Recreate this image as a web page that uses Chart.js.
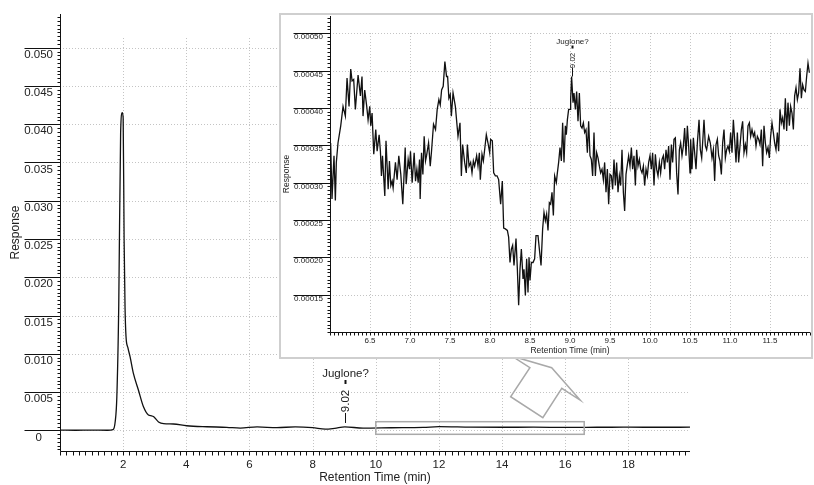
<!DOCTYPE html>
<html>
<head>
<meta charset="utf-8">
<title>Chromatogram</title>
<script src="https://cdn.jsdelivr.net/npm/chart.js@4.4.1/dist/chart.umd.min.js"></script>
<style>
    html, body { margin: 0; padding: 0; background: #fff; }
    #wrap { position: relative; width: 814px; height: 485px; overflow: hidden; }
    #mainChart { position: absolute; left: 0; top: 0; }
    #insetBox { position: absolute; left: 279px; top: 13px; width: 530px; height: 342px;
                border: 2px solid #cfcfcf; background: #fff; }
    #insetChart { display: block; }
</style>
</head>
<body>
<div id="wrap">
    <canvas id="mainChart" width="814" height="485"></canvas>
    <div id="insetBox"><canvas id="insetChart" width="530" height="342"></canvas></div>
</div>
<script>
// 全程色谱 (min / response)
const mainTime = [0, 0.5, 1.0, 1.5, 1.68, 1.75, 1.8, 1.86, 1.92, 1.97, 2.0, 2.03, 2.06, 2.09,
    2.15, 2.22, 2.32, 2.48, 2.64, 2.8, 2.9, 2.96, 3.12, 3.28, 3.59, 4.01, 4.65, 5.28, 5.71, 6.24,
    6.87, 7.45, 8.0, 8.4, 8.7, 9.02, 9.6, 10.5, 11.5, 12.0, 13.0, 14.0, 15.0, 16.0, 17.0, 18.0, 19.0, 19.95];
const mainResp = [0.00002, 0.00001, 0.00002, 0.00001, 0.0001, 0.0012, 0.0044, 0.0162, 0.0389, 0.0415,
    0.0408, 0.0249, 0.0160, 0.0123, 0.0108, 0.0096, 0.0075, 0.0053, 0.0031, 0.0020, 0.0019, 0.0018,
    0.0011, 0.00087, 0.00083, 0.0006, 0.00047, 0.0004, 0.0003, 0.00045, 0.00035, 0.00046, 0.00035,
    0.00015, 0.00026, 0.00044, 0.0003, 0.00034, 0.00038, 0.00048, 0.00042, 0.0004, 0.00041, 0.00039,
    0.0004, 0.00041, 0.0004, 0.00041];

// 局部放大 6–12 min, 响应值单位 1e-5
const insetTime = [
    6.008, 6.025, 6.05, 6.067, 6.079, 6.10, 6.134, 6.163, 6.192, 6.213, 6.238, 6.259, 6.276, 6.296,
    6.317, 6.351, 6.38, 6.40, 6.413, 6.434, 6.459, 6.476, 6.497, 6.509, 6.526, 6.547, 6.572, 6.589,
    6.614, 6.63, 6.643, 6.656, 6.685, 6.70, 6.727, 6.743, 6.76, 6.777, 6.789, 6.818, 6.839, 6.86,
    6.885, 6.91, 6.94, 6.952, 6.977, 6.994, 7.006, 7.027, 7.052, 7.069, 7.086, 7.102, 7.119, 7.127,
    7.144, 7.161, 7.177, 7.194, 7.207, 7.232, 7.253, 7.269, 7.294, 7.319, 7.34, 7.361, 7.378, 7.395,
    7.415, 7.436, 7.457, 7.47, 7.486, 7.503,
    7.517, 7.538, 7.567, 7.6, 7.625, 7.642, 7.658, 7.683, 7.704, 7.717, 7.738, 7.758, 7.775, 7.792,
    7.808, 7.833, 7.85, 7.867, 7.879, 7.9, 7.917, 7.933, 7.954, 7.975, 7.996, 8.008, 8.029, 8.046,
    8.067, 8.088, 8.108, 8.133, 8.154, 8.171, 8.192, 8.217, 8.233, 8.25, 8.267, 8.283, 8.3, 8.325,
    8.342, 8.358, 8.375, 8.392, 8.413, 8.425, 8.442, 8.458, 8.475, 8.488, 8.5, 8.517, 8.538, 8.558,
    8.575, 8.6, 8.617, 8.638, 8.658, 8.675, 8.692, 8.708, 8.725, 8.742, 8.758, 8.775, 8.792, 8.808,
    8.829, 8.842, 8.858, 8.875, 8.892, 8.908, 8.925, 8.942, 8.954, 8.967, 8.983, 9.0,
    9.008, 9.02, 9.038, 9.05, 9.067, 9.083, 9.1, 9.117, 9.133, 9.15, 9.167, 9.183, 9.2, 9.217,
    9.233, 9.25, 9.267, 9.283, 9.3, 9.317, 9.333, 9.35, 9.367, 9.383, 9.4, 9.417, 9.433, 9.45,
    9.467, 9.483, 9.5, 9.517, 9.533, 9.55, 9.567, 9.583, 9.6, 9.617, 9.633, 9.65, 9.667, 9.683,
    9.7, 9.717, 9.733, 9.75, 9.767, 9.783, 9.8, 9.817, 9.833, 9.85, 9.867, 9.883, 9.9, 9.917,
    9.933, 9.95, 9.967, 9.983, 10.0, 10.017, 10.033, 10.05, 10.067, 10.083, 10.1, 10.117, 10.133, 10.15,
    10.167, 10.183, 10.2, 10.217, 10.233, 10.25, 10.267, 10.283, 10.3, 10.317, 10.333, 10.35, 10.367, 10.383,
    10.4, 10.417, 10.433, 10.45, 10.467, 10.483, 10.5,
    10.508, 10.525, 10.542, 10.558, 10.575, 10.592, 10.613, 10.629, 10.646, 10.663, 10.675, 10.692, 10.708, 10.733,
    10.754, 10.775, 10.792, 10.808, 10.825, 10.842, 10.858, 10.875, 10.892, 10.908, 10.925, 10.942, 10.958, 10.975,
    10.992, 11.008, 11.025, 11.042, 11.058, 11.075, 11.092, 11.108, 11.125, 11.142, 11.158, 11.175, 11.192, 11.208,
    11.225, 11.242, 11.258, 11.275, 11.292, 11.308, 11.325, 11.342, 11.358, 11.375, 11.392, 11.408, 11.425, 11.442,
    11.458, 11.475, 11.492, 11.508, 11.525, 11.542, 11.558, 11.575, 11.592, 11.608, 11.625, 11.642, 11.658, 11.675,
    11.692, 11.708, 11.725, 11.742, 11.758, 11.775, 11.792, 11.808, 11.825, 11.842, 11.858, 11.875, 11.892, 11.908,
    11.925, 11.942, 11.958, 11.975, 11.992];
const insetResp = [
    35.3, 27.8, 33.6, 27.6, 32.7, 35.3, 37.6, 40.2, 38.9, 44.0, 40.2, 45.2, 43.6, 43.8,
    39.8, 44.4, 41.6, 44.2, 38.9, 42.4, 40.2, 38.4, 40.2, 37.6, 39.3, 33.8, 37.1, 34.2,
    36.4, 34.2, 30.9, 33.6, 28.2, 35.6, 29.1, 32.9, 29.6, 30.2, 29.3, 32.7, 30.4, 33.6,
    31.1, 27.1, 34.7, 29.8, 33.1, 31.8, 34.2, 30.0, 34.0, 30.2, 31.8, 30.0, 33.1, 27.8,
    34.0, 31.1, 36.2, 32.9, 33.6, 35.3, 32.2, 34.2, 37.8, 37.1, 39.8, 41.1, 40.4, 42.4,
    42.9, 46.2, 44.2, 44.2, 41.3, 41.8,
    38.9, 42.0, 40.2, 36.2, 38.0, 30.9, 35.1, 32.7, 31.3, 35.1, 32.2, 32.7, 31.3, 32.9,
    32.2, 33.6, 32.2, 34.0, 30.4, 33.8, 32.9, 34.4, 36.4, 35.3, 34.0, 35.8, 35.6, 31.3,
    30.9, 30.9, 30.4, 27.1, 30.2, 23.9, 23.8, 23.6, 22.7, 19.3, 21.1, 21.6, 18.9, 22.5,
    18.4, 13.6, 18.4, 21.1, 17.1, 18.4, 14.9, 19.8, 15.3, 20.0, 16.9, 19.3, 19.3, 19.8,
    22.9, 22.9, 21.1, 18.9, 23.8, 26.0, 24.9, 25.8, 23.6, 27.3, 27.1, 28.7, 25.6, 30.9,
    30.0, 31.3, 32.7, 34.7, 32.9, 38.0, 32.7, 37.6, 36.4, 38.4, 39.8, 39.8,
    41.1, 44.2, 40.7, 42.0, 39.8, 42.2, 38.2, 42.0, 37.6, 37.3, 38.0, 36.7, 37.1, 34.0,
    38.2, 33.6, 33.1, 30.9, 36.7, 30.9, 34.0, 33.3, 32.2, 31.3, 31.8, 30.4, 32.7, 28.7,
    31.8, 27.1, 31.1, 30.9, 29.1, 33.1, 29.6, 32.7, 28.7, 30.9, 29.6, 34.4, 28.7, 26.2,
    31.1, 32.4, 33.6, 32.2, 34.7, 31.8, 33.6, 29.6, 34.4, 32.2, 33.1, 31.8, 31.3, 32.2,
    29.6, 31.8, 30.9, 32.7, 33.6, 31.8, 34.0, 29.6, 33.8, 31.8, 30.9, 32.7, 31.3, 33.1,
    33.6, 31.8, 34.4, 32.7, 34.9, 30.4, 35.1, 32.7, 35.8, 36.0, 31.3, 28.4, 34.4, 35.3,
    33.6, 34.9, 37.3, 33.6, 37.6, 34.9, 31.3,
    35.8, 31.8, 36.0, 34.0, 31.8, 35.3, 38.4, 34.4, 33.3, 36.2, 38.4, 34.9, 34.4, 36.2,
    35.3, 33.3, 34.4, 30.2, 35.1, 35.8, 33.6, 32.9, 31.1, 35.3, 37.1, 33.3, 34.4, 34.9,
    34.2, 36.7, 34.0, 38.4, 35.8, 32.7, 36.7, 32.7, 34.9, 37.1, 38.2, 34.0, 35.1, 34.0,
    37.6, 38.0, 36.2, 37.1, 36.2, 36.7, 34.9, 36.2, 35.8, 35.1, 37.1, 32.2, 37.6, 35.3,
    34.0, 34.7, 33.3, 36.2, 38.0, 36.7, 35.3, 34.4, 36.7, 34.2, 39.8, 38.0, 38.7, 37.1,
    41.3, 36.9, 40.7, 37.6, 40.2, 39.3, 37.1, 41.6, 42.7, 41.1, 42.0, 45.3, 41.3, 43.1,
    42.4, 42.2, 44.2, 46.0, 44.7];

// 刻度
const mainXTicks = [2, 4, 6, 8, 10, 12, 14, 16, 18];
const mainYTicks = [0, 0.005, 0.010, 0.015, 0.020, 0.025, 0.030, 0.035, 0.040, 0.045, 0.050];
const insetXTicks = [6.5, 7.0, 7.5, 8.0, 8.5, 9.0, 9.5, 10.0, 10.5, 11.0, 11.5];
const insetYTicks = [0.00015, 0.00020, 0.00025, 0.00030, 0.00035, 0.00040, 0.00045, 0.00050];

const FONT = '"Liberation Sans", Arial, Helvetica, sans-serif';
const TEXT = '#222';
const GRID = '#c4c4c4';

// 网格、坐标轴、次刻度和峰标注
function makeDecor(cfg) {
    const lineAt = (ctx, x1, y1, x2, y2) => { ctx.moveTo(x1, y1); ctx.lineTo(x2, y2); };
    const steps = (min, max, step) => {
        const out = [];
        for (let i = Math.ceil(min / step - 1e-6); i <= Math.floor(max / step + 1e-6); i++) out.push(i * step);
        return out;
    };
    return {
        id: 'decor',
        beforeDatasetsDraw(chart) {
            const { ctx, chartArea: a, scales: { x, y } } = chart;
            ctx.save();
            ctx.strokeStyle = GRID;
            ctx.lineWidth = 1;
            ctx.setLineDash([1, 2]);
            ctx.beginPath();
            cfg.yTicks.forEach(v => {
                const py = Math.round(y.getPixelForValue(v)) + 0.5;
                lineAt(ctx, a.left, py, a.right, py);
            });
            const top = Math.round(y.getPixelForValue(cfg.gridTop));
            cfg.xTicks.forEach(v => {
                const px = Math.round(x.getPixelForValue(v)) + 0.5;
                lineAt(ctx, px, top, px, a.bottom);
            });
            ctx.stroke();
            ctx.restore();
        },
        afterDatasetsDraw(chart) {
            const { ctx, chartArea: a, scales: { x, y } } = chart;
            const left = Math.round(a.left) + 0.5;
            const bottom = Math.round(a.bottom) + 0.5;
            ctx.save();
            ctx.strokeStyle = '#111';
            ctx.lineWidth = 1;
            ctx.beginPath();
            lineAt(ctx, left, a.top, left, bottom);
            lineAt(ctx, left, bottom, a.right, bottom);
            // 主刻度长横线
            cfg.yTicks.forEach(v => {
                const py = Math.round(y.getPixelForValue(v)) + 0.5;
                lineAt(ctx, left - cfg.majorLen, py, left, py);
            });
            steps(y.min, y.max, cfg.yMinor).forEach(v => {
                const py = Math.round(y.getPixelForValue(v)) + 0.5;
                lineAt(ctx, left - cfg.minorLen, py, left, py);
            });
            steps(x.min, x.max, cfg.xMinor).forEach(v => {
                const px = Math.round(x.getPixelForValue(v)) + 0.5;
                lineAt(ctx, px, bottom, px, bottom + cfg.xTickLen);
            });
            ctx.stroke();

            // 放大区域框和指向插图的箭头
            if (cfg.zoomBox) {
                const b = cfg.zoomBox;
                ctx.strokeStyle = '#a9a9a9';
                ctx.lineWidth = 1.5;
                const x0 = x.getPixelForValue(b.x0), x1 = x.getPixelForValue(b.x1);
                const y0 = y.getPixelForValue(b.y1), y1 = y.getPixelForValue(b.y0);
                ctx.strokeRect(x0, y0, x1 - x0, y1 - y0);
                ctx.beginPath();
                cfg.callout.forEach(([t, v], i) => {
                    const px = x.getPixelForValue(t), py = y.getPixelForValue(v);
                    if (i === 0) ctx.moveTo(px, py); else ctx.lineTo(px, py);
                });
                ctx.closePath();
                ctx.stroke();
            }

            // 峰标注
            const p = cfg.peak;
            const pts = chart.data.datasets[0].data;
            const pt = pts.find(d => Math.abs(d.x - p.time) < 1e-6);
            const px = Math.round(x.getPixelForValue(pt.x)) + 0.5;
            const py = y.getPixelForValue(pt.y);
            ctx.strokeStyle = '#111';
            ctx.lineWidth = 1;
            ctx.beginPath();
            lineAt(ctx, px, py + p.stem[0], px, py + p.stem[1]);
            ctx.stroke();
            ctx.lineWidth = 2;
            ctx.beginPath();
            lineAt(ctx, px, py + p.dash[0], px, py + p.dash[1]);
            ctx.stroke();
            ctx.fillStyle = TEXT;
            ctx.font = p.fontSize + 'px ' + FONT;
            ctx.textAlign = 'center';
            ctx.textBaseline = 'middle';
            ctx.fillText(p.label, px, py + p.labelAt);
            ctx.translate(px, py + p.valueAt);
            ctx.rotate(-Math.PI / 2);
            ctx.fillText(pt.x.toFixed(2), 0, 0);
            ctx.restore();
        }
    };
}

function axisConfig(opts) {
    return {
        type: 'linear',
        min: opts.min,
        max: opts.max,
        afterBuildTicks: s => { s.ticks = opts.ticks.map(v => ({ value: v })); },
        afterFit: s => {
            // 固定坐标轴占位, 不让标签撑开绘图区
            if (opts.width) {
                s.width = opts.width;
                s.paddingTop = 0;
                s.paddingBottom = 0;
            } else {
                s.height = opts.height;
                s.paddingLeft = 0;
                s.paddingRight = 0;
            }
        },
        grid: { display: false, drawTicks: false },
        border: { display: false },
        ticks: {
            autoSkip: false,
            maxRotation: 0,
            padding: opts.padding,
            labelOffset: opts.labelOffset || 0,
            crossAlign: 'center',
            color: TEXT,
            font: { family: FONT, size: opts.tickSize },
            callback: opts.format
        },
        title: {
            display: true,
            text: opts.title,
            color: TEXT,
            font: { family: FONT, size: opts.titleSize },
            padding: opts.titlePad
        }
    };
}

function lineChart(id, times, values, padding, scales, decor, smooth) {
    const points = times.map((t, i) => ({ x: t, y: values[i] }));
    return new Chart(document.getElementById(id), {
        type: 'line',
        data: {
            datasets: [{
                data: points,
                borderColor: '#111',
                borderWidth: 1.3,
                pointRadius: 0,
                fill: false,
                tension: 0,
                cubicInterpolationMode: smooth ? 'monotone' : 'default'
            }]
        },
        options: {
            responsive: false,
            animation: false,
            layout: { padding: padding },
            plugins: { legend: { display: false }, tooltip: { enabled: false } },
            scales: scales
        },
        plugins: [makeDecor(decor)]
    });
}

// 主图
lineChart('mainChart', mainTime, mainResp,
    { top: 14, right: 124, left: 0, bottom: 0 },
    {
        x: axisConfig({ min: 0, max: 19.95, ticks: mainXTicks, height: 34, padding: 14,
            tickSize: 11.5, format: v => String(v), title: 'Retention Time (min)', titleSize: 12,
            titlePad: { top: 0, bottom: 0 } }),
        y: axisConfig({ min: -0.0027, max: 0.0544, ticks: mainYTicks, width: 60, padding: 7,
            labelOffset: 7, tickSize: 11.5, format: v => (v === 0 ? '0' : v.toFixed(3)),
            title: 'Response', titleSize: 12, titlePad: { top: 8, bottom: 0 } })
    },
    {
        xTicks: mainXTicks, yTicks: mainYTicks, gridTop: 0.0513,
        majorLen: 36, minorLen: 3, yMinor: 0.0005, xMinor: 0.2, xTickLen: 4,
        zoomBox: { x0: 10.0, x1: 16.6, y0: -0.00052, y1: 0.00113 },
        callout: [[14.30, 0.00972], [14.88, 0.00819], [14.27, 0.00439], [15.29, 0.00165],
                  [15.89, 0.00549], [16.47, 0.00396], [15.57, 0.00819]],
        peak: { time: 9.02, label: 'Juglone?', fontSize: 11.5,
                stem: [-4, -14], valueAt: -26, dash: [-43, -47], labelAt: -53 }
    },
    true);

// 插图
lineChart('insetChart', insetTime, insetResp.map(v => v * 1e-5),
    { top: 1, right: 1, left: 0, bottom: 0 },
    {
        x: axisConfig({ min: 6.0, max: 12.0, ticks: insetXTicks, height: 25, padding: 9,
            tickSize: 8, format: v => v.toFixed(1), title: 'Retention Time (min)', titleSize: 8.5,
            titlePad: { top: 0, bottom: 1 } }),
        y: axisConfig({ min: 0.0001, max: 0.000523, ticks: insetYTicks, width: 49, padding: 7,
            labelOffset: 4, tickSize: 8, format: v => v.toFixed(5),
            title: 'Response', titleSize: 8.5, titlePad: { top: 1, bottom: 0 } })
    },
    {
        xTicks: insetXTicks, yTicks: insetYTicks, gridTop: 0.0005,
        majorLen: 37, minorLen: 3, yMinor: 0.000005, xMinor: 0.05, xTickLen: 3,
        peak: { time: 9.02, label: 'Juglone?', fontSize: 8,
                stem: [0, -9], valueAt: -16, dash: [-28, -31], labelAt: -35 }
    },
    false);
</script>
</body>
</html>
